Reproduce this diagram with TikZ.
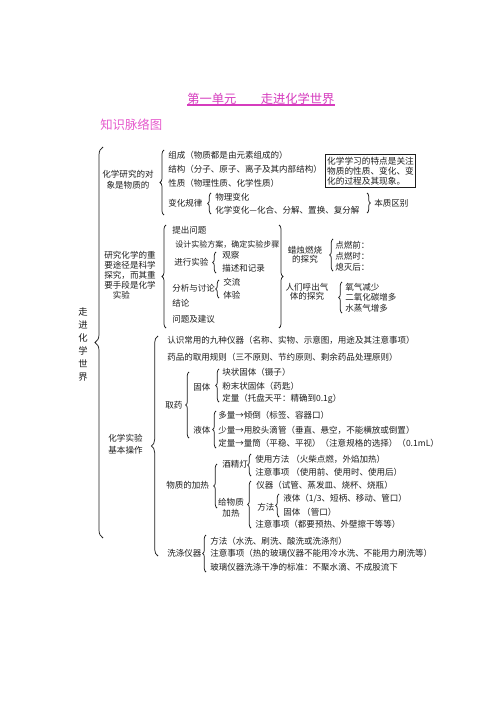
\documentclass[tikz,border=0pt]{standalone}
\usepackage{fontspec}
\setmainfont{Noto Sans CJK SC}
\usetikzlibrary{decorations.pathreplacing}
\definecolor{ttl}{RGB}{214,60,190}
\definecolor{ttl2}{RGB}{230,90,205}
\definecolor{ink}{RGB}{30,30,30}
\tikzset{
 txt/.style={anchor=west, inner sep=0pt, text=ink, font=\fontsize{6.4}{7.5}\selectfont},
 ctr/.style={inner sep=0pt, text=ink, align=center},
 brc/.style={decorate, decoration={brace, amplitude=#1}, draw=ink, line width=0.55pt},
}
\newcommand{\mylbrace}[5]{\coordinate (#1-t) at (#2,#3); \coordinate (#1-b) at (#2,#4); \draw[brc=#5] (#1-b) -- (#1-t);}
\newcommand{\myrbrace}[5]{\coordinate (#1-t) at (#2,#3); \coordinate (#1-b) at (#2,#4); \draw[brc=#5] (#1-t) -- (#1-b);}
\begin{document}
\begin{tikzpicture}[x=0.75pt,y=-0.75pt]
\useasboundingbox (0,0) rectangle (496,702);
\fill[white] (0,0) rectangle (496,702);

% title
\node[anchor=west, inner sep=0pt, text=ttl, font=\fontsize{9.2}{11}\selectfont] (title) at (187,99) {第一单元\quad\quad 走进化学世界};
\coordinate (ul) at (0,105);
\draw[ttl, line width=1.1pt] (title.west |- ul) -- (title.east |- ul);
\node[anchor=west, inner sep=0pt, text=ttl2, font=\fontsize{9.3}{11}\selectfont] (sub) at (100,125) {知识脉络图};

% main
\node[ctr, font=\fontsize{7}{9.75}\selectfont] (main) at (83,344.5) {走\\进\\化\\学\\世\\界};
\mylbrace{bm}{103}{147}{538}{6pt}

% group 1
\node[ctr, font=\fontsize{6.4}{8.25}\selectfont] (g1) at (128,179.5) {化学研究的对\\象是物质的};
\mylbrace{b1}{164}{150}{215}{3pt}
\node[txt] (zc) at (168,155) {组成（物质都是由元素组成的）};
\node[txt] (jg) at (168,169) {结构（分子、原子、离子及其内部结构）};
\node[txt] (xz) at (168,183) {性质（物理性质、化学性质）};
\node[txt] (bh) at (168,203) {变化规律};
\mylbrace{bbh}{211}{193}{214}{2.5pt}
\node[txt] (wl) at (215,197) {物理变化};
\node[txt] (hx) at (215,210) {化学变化—化合、分解、置换、复分解};
\myrbrace{bqb}{367}{193}{213}{2.5pt}
\node[txt] (qb) at (374,203) {本质区别};
\node[draw=ink, line width=0.8pt, inner sep=1.5pt, align=left, text=ink, font=\fontsize{6.5}{7.5}\selectfont] (box) at (370.5,171) {化学学习的特点是关注\\物质的性质、变化、变\\化的过程及其现象。};

% group 2
\node[ctr, align=left, font=\fontsize{6.4}{7.5}\selectfont] (g2) at (130,275) {研究化学的重\\要途径是科学\\探究，而其重\\要手段是化学\\\hspace*{1em}实验};
\mylbrace{b2}{166}{225}{328}{3pt}
\node[txt] (tc) at (172,230) {提出问题};
\node[txt, font=\fontsize{6}{7}\selectfont] (sj) at (175,245) {设计实验方案，确定实验步骤};
\node[txt] (jx) at (174,262) {进行实验};
\mylbrace{bjx}{216}{252}{273}{2.5pt}
\node[txt] (gc) at (222,255) {观察};
\node[txt] (ms) at (222,268) {描述和记录};
\node[txt] (fx) at (172,288) {分析与讨论};
\mylbrace{bfx}{219}{280}{298}{2.5pt}
\node[txt] (jl) at (223,282) {交流};
\node[txt] (ty) at (223,295) {体验};
\node[txt] (jr) at (172,303) {结论};
\node[txt] (wt) at (172,319) {问题及建议};
\myrbrace{b2r}{279}{225}{328}{3pt}
\node[ctr, font=\fontsize{6.4}{6.8}\selectfont] (lz) at (305,254.5) {蜡烛燃烧\\的探究};
\mylbrace{blz}{333}{239}{271}{2.5pt}
\node[txt] (q1) at (335,245) {点燃前：};
\node[txt] (q2) at (335,256.5) {点燃时：};
\node[txt] (q3) at (335,267) {熄灭后：};
\node[ctr, font=\fontsize{6.4}{6.8}\selectfont] (hc) at (307,291.5) {人们呼出气\\体的探究};
\mylbrace{bhc}{342}{282}{313}{2.5pt}
\node[txt] (h1) at (345,287) {氧气减少};
\node[txt] (h2) at (345,297.5) {二氧化碳增多};
\node[txt] (h3) at (345,308) {水蒸气增多};

% group 3
\node[ctr, font=\fontsize{6.4}{9}\selectfont] (g3) at (125.5,444) {化学实验\\基本操作};
\mylbrace{b3}{158}{336}{556}{5pt}
\node[txt] (rs) at (167,340) {认识常用的九种仪器（名称、实物、示意图，用途及其注意事项）};
\node[txt] (yp) at (167,357) {药品的取用规则（三不原则、节约原则、剩余药品处理原则）};
\node[txt] (qy) at (165,405) {取药};
\mylbrace{bqy}{189}{372}{438}{2.5pt}
\node[txt] (gt) at (193,387) {固体};
\mylbrace{bgt}{219}{369}{402}{2.5pt}
\node[txt] (k1) at (222,372) {块状固体（镊子）};
\node[txt] (k2) at (222,386) {粉末状固体（药匙）};
\node[txt] (k3) at (222,399) {定量（托盘天平：精确到0.1g）};
\node[txt] (yt) at (193,430) {液体};
\mylbrace{byt}{216}{411}{448}{2.5pt}
\node[txt] (l1) at (218,415) {多量→倾倒（标签、容器口）};
\node[txt] (l2) at (218,430) {少量→用胶头滴管（垂直、悬空，不能横放或倒置）};
\node[txt] (l3) at (218,443) {定量→量筒（平稳、平视）（注意规格的选择）（0.1mL）};
\node[txt] (jr2) at (166,485) {物质的加热};
\mylbrace{bjr}{217}{464}{508}{2.5pt}
\node[txt] (jj) at (222,464) {酒精灯};
\mylbrace{bjj}{251}{454}{476}{2.5pt}
\node[txt] (j1) at (255,459) {使用方法 （火柴点燃，外焰加热）};
\node[txt] (j2) at (255,472) {注意事项 （使用前、使用时、使用后）};
\node[ctr, font=\fontsize{6.4}{8.25}\selectfont] (gw) at (231,507.5) {给物质\\加热};
\mylbrace{bgw}{251}{481}{528}{2.5pt}
\node[txt] (w1) at (256,485) {仪器（试管、蒸发皿、烧杯、烧瓶）};
\node[txt] (ff) at (257,507) {方法};
\mylbrace{bff}{279}{494}{517}{2.5pt}
\node[txt] (f1) at (283,499) {液体（1/3、短柄、移动、管口）};
\node[txt] (f2) at (283,512) {固体 （管口）};
\node[txt] (w3) at (255,524) {注意事项（都要预热、外壁擦干等等）};
\node[txt] (xd) at (167,553) {洗涤仪器};
\mylbrace{bxd}{206}{535}{572}{2.5pt}
\node[txt] (x1) at (210,541) {方法（水洗、刷洗、酸洗或洗涤剂）};
\node[txt] (x2) at (210,553) {注意事项（热的玻璃仪器不能用冷水洗、不能用力刷洗等）};
\node[txt] (x3) at (210,567) {玻璃仪器洗涤干净的标准：不聚水滴、不成股流下};
\end{tikzpicture}
\end{document}
